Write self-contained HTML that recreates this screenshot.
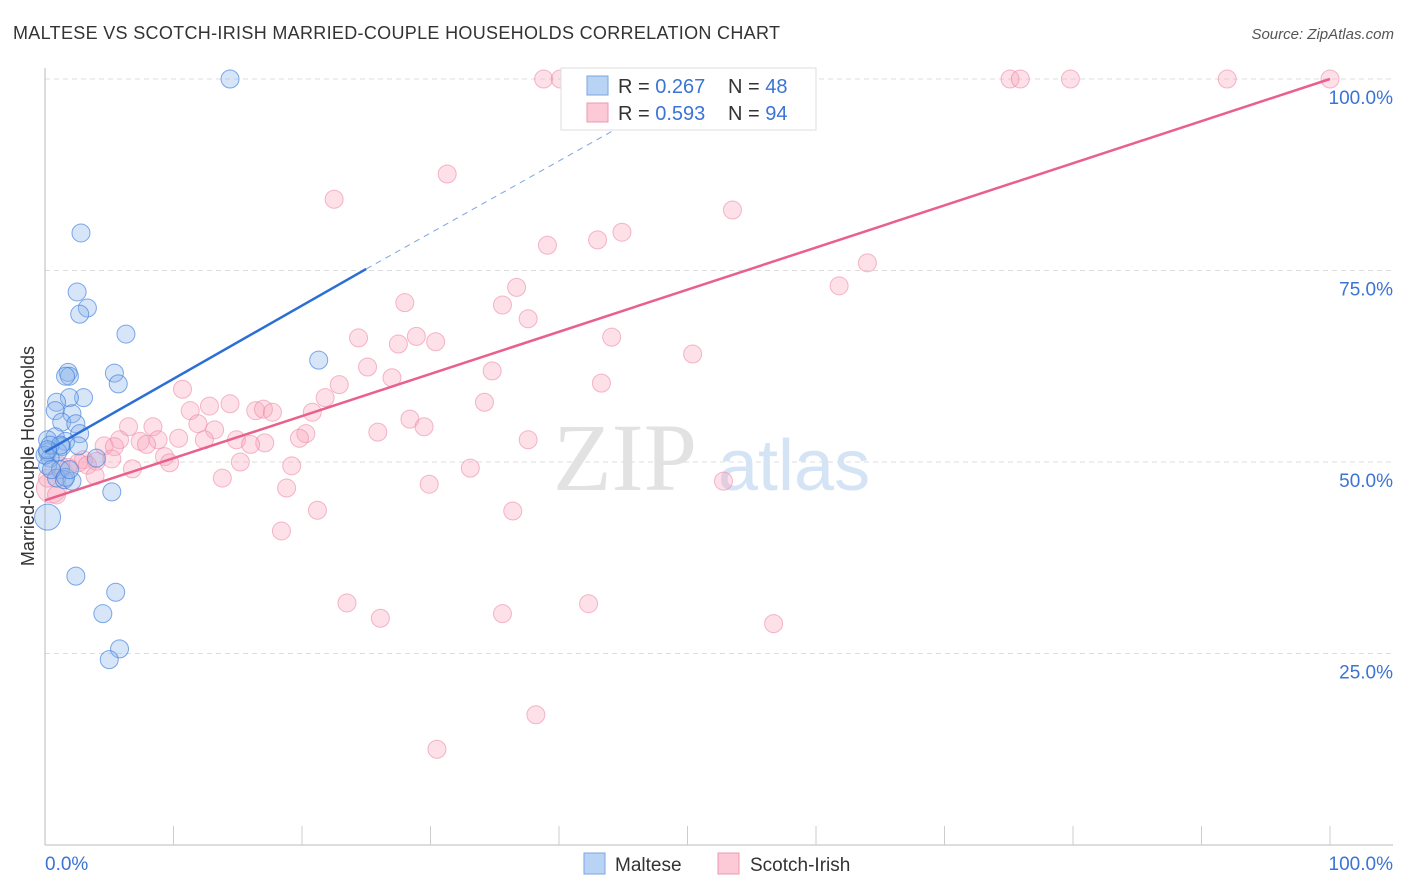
<!DOCTYPE html>
<html><head><meta charset="utf-8"><style>
body{margin:0;background:#fff;font-family:"Liberation Sans",sans-serif;}
svg{display:block}
</style></head><body>
<svg id="chart" width="1406" height="892" xmlns="http://www.w3.org/2000/svg" font-family="Liberation Sans, sans-serif">
<text x="13" y="39" font-size="18" fill="#333" textLength="767">MALTESE VS SCOTCH-IRISH MARRIED-COUPLE HOUSEHOLDS CORRELATION CHART</text>
<text x="1394" y="39" font-size="15" fill="#555" font-style="italic" text-anchor="end">Source: ZipAtlas.com</text>
<g id="grid"></g>
<text x="553" y="490" font-size="96" fill="#e2e2e2" font-family="Liberation Serif, serif">ZIP</text>
<text x="718" y="490" font-size="72" fill="#d5e4f5">atlas</text>
<g id="axes"></g>
<g id="pink"></g>
<g id="blue"></g>
<g id="lines"></g>
<text transform="translate(34,456) rotate(-90)" font-size="18" fill="#333" text-anchor="middle">Married-couple Households</text>
<g>
<rect x="561" y="68" width="255" height="62" fill="#fff" stroke="#ddd"/>
<rect x="587" y="76" width="21" height="19" fill="#b9d3f5" stroke="#7aa6e3"/>
<rect x="587" y="103" width="21" height="19" fill="#fcc9d6" stroke="#f097b0"/>
<text x="618" y="93" font-size="20" fill="#333">R = <tspan fill="#3b74d4">0.267</tspan></text>
<text x="728" y="93" font-size="20" fill="#333">N = <tspan fill="#3b74d4">48</tspan></text>
<text x="618" y="120" font-size="20" fill="#333">R = <tspan fill="#3b74d4">0.593</tspan></text>
<text x="728" y="120" font-size="20" fill="#333">N = <tspan fill="#3b74d4">94</tspan></text>
</g>
<g>
<rect x="584" y="853" width="21" height="21" fill="#b9d3f5" stroke="#7aa6e3"/>
<text x="615" y="871" font-size="19" fill="#333">Maltese</text>
<rect x="718" y="853" width="21" height="21" fill="#fcc9d6" stroke="#f097b0"/>
<text x="750" y="871" font-size="19" fill="#333">Scotch-Irish</text>
</g>
</svg>
<script>
const maltX=[14.4,2.8,2.5,3.3,2.7,6.3,21.3,1.8,1.9,1.6,5.4,5.7,3.0,1.9,0.9,0.8,2.1,1.3,2.4,2.7,0.8,1.6,0.2,1.3,2.6,0.2,1.0,0.4,4.0,0.2,1.2,0.9,1.5,2.1,5.2,0.2,2.4,5.5,4.5,5.8,5.0,0,0.5,1.6,0.4,1.2,0.2,1.9];
const maltY=[100,79.9,72.2,70.1,69.3,66.7,63.3,61.7,61.2,61.2,61.6,60.2,58.4,58.4,57.8,56.7,56.3,55.2,55.0,53.7,53.3,52.7,52.9,52.0,52.1,51.3,51.3,50.5,50.5,49.5,49.0,47.9,47.7,47.5,46.1,42.8,35.1,33.0,30.2,25.6,24.2,50.9,49.0,48.0,52.2,52.2,51.6,49.0];
const scotX=[38.8,40.1,41.0,56.0,75.1,75.9,79.8,92.0,100,31.3,22.5,53.5,39.1,43.0,44.9,64.0,61.8,36.7,28.0,35.6,37.6,24.4,28.9,30.4,27.5,44.1,50.4,25.1,34.8,27.0,43.3,22.9,10.7,21.8,11.3,12.8,14.4,16.4,17.0,17.7,20.8,34.2,11.9,28.4,29.5,8.4,6.5,13.2,25.9,20.3,19.8,5.8,10.4,12.4,8.8,7.4,14.9,17.1,16.0,37.6,4.6,7.9,5.4,9.3,3.0,4.0,2.6,5.2,3.3,1.8,1.2,9.7,15.2,6.8,19.2,33.1,13.8,18.8,29.9,52.8,21.2,36.4,18.4,23.5,26.1,35.6,42.3,56.7,38.2,30.5,0.5,0.2,0.9,3.9];
const scotY=[100,100,100,100,100,100,100,100,100,87.6,84.3,82.9,78.3,79.0,80.0,76.0,73.0,72.8,70.8,70.5,68.7,66.2,66.4,65.7,65.4,66.3,64.1,62.4,61.9,61.0,60.3,60.1,59.5,58.4,56.7,57.3,57.6,56.7,56.9,56.5,56.5,57.8,55.0,55.6,54.6,54.6,54.6,54.2,53.9,53.7,53.1,52.9,53.1,52.9,52.9,52.7,52.9,52.5,52.3,52.9,52.1,52.3,52.0,50.7,50.3,50.1,49.9,50.4,49.6,49.3,49.5,49.9,50.0,49.1,49.5,49.2,47.9,46.6,47.1,47.5,43.7,43.6,41.0,31.6,29.6,30.2,31.5,28.9,17.0,12.5,46.6,47.9,45.7,48.2];
const yTicks=[25,50,75,100];
const yTickLabels=["25.0%","50.0%","75.0%","100.0%"];
const maltLine=[[0,51.3],[25,75.2]];
const maltDash=[[25,75.2],[45,94]];
const scotLine=[[0,45],[100,100]];

const NS="http://www.w3.org/2000/svg";
const X0=45,X1=1330,Y0=845,Y100=79;
function sx(v){return X0+(X1-X0)*v/100;}
function sy(v){return Y0-(Y0-Y100)*v/100;}
function mk(t,a,p){const e=document.createElementNS(NS,t);for(const k in a)e.setAttribute(k,a[k]);p.appendChild(e);return e;}
const grid=document.getElementById('grid'),axes=document.getElementById('axes');
yTicks.forEach((t,i)=>{
  const l=mk('line',{x1:45,x2:1393,y1:sy(t),y2:sy(t),stroke:'#ddd','stroke-dasharray':'5,4'},grid);
  
  
  const tx=mk('text',{x:1393,y:sy(t)+25,'font-size':19,fill:'#3b74d4','text-anchor':'end'},axes);
  tx.textContent=yTickLabels[i];
  
  
});
mk('line',{x1:45,x2:45,y1:68,y2:845,stroke:'#bbb'},axes);
mk('line',{x1:45,x2:1393,y1:845,y2:845,stroke:'#bbb'},axes);
for(let i=1;i<=10;i++){
  const t=mk('line',{x1:sx(i*10),x2:sx(i*10),y1:826,y2:845,stroke:'#ccc'},axes);
  
  
}
const xl0=mk('text',{x:45,y:870,'font-size':19,fill:'#3b74d4'},axes);xl0.textContent='0.0%';


const xl1=mk('text',{x:1393,y:870,'font-size':19,fill:'#3b74d4','text-anchor':'end'},axes);xl1.textContent='100.0%';


const pg=document.getElementById('pink'),bg=document.getElementById('blue');
scotX.forEach((x,i)=>{
  const c=mk('circle',{cx:sx(x),cy:sy(scotY[i]),r:(i===90?15:9),fill:'rgba(248,165,190,0.35)',stroke:'rgba(235,130,160,0.55)','stroke-width':1},pg);
  
  
});
maltX.forEach((x,i)=>{
  const c=mk('circle',{cx:sx(x),cy:sy(maltY[i]),r:(i===35?13:9),fill:'rgba(140,180,235,0.35)',stroke:'rgba(60,125,220,0.65)','stroke-width':1},bg);
  
  
});
const lg=document.getElementById('lines');
const l1=mk('line',{x1:sx(maltLine[0][0]),y1:sy(maltLine[0][1]),x2:sx(maltLine[1][0]),y2:sy(maltLine[1][1]),stroke:'#2b6fd6','stroke-width':2.5},lg);


const l2=mk('line',{x1:sx(maltDash[0][0]),y1:sy(maltDash[0][1]),x2:sx(maltDash[1][0]),y2:sy(maltDash[1][1]),stroke:'#7aa6e3','stroke-width':1,'stroke-dasharray':'6,5'},lg);


const l3=mk('line',{x1:sx(scotLine[0][0]),y1:sy(scotLine[0][1]),x2:sx(scotLine[1][0]),y2:sy(scotLine[1][1]),stroke:'#e8608b','stroke-width':2.5},lg);


</script>
</body></html>
